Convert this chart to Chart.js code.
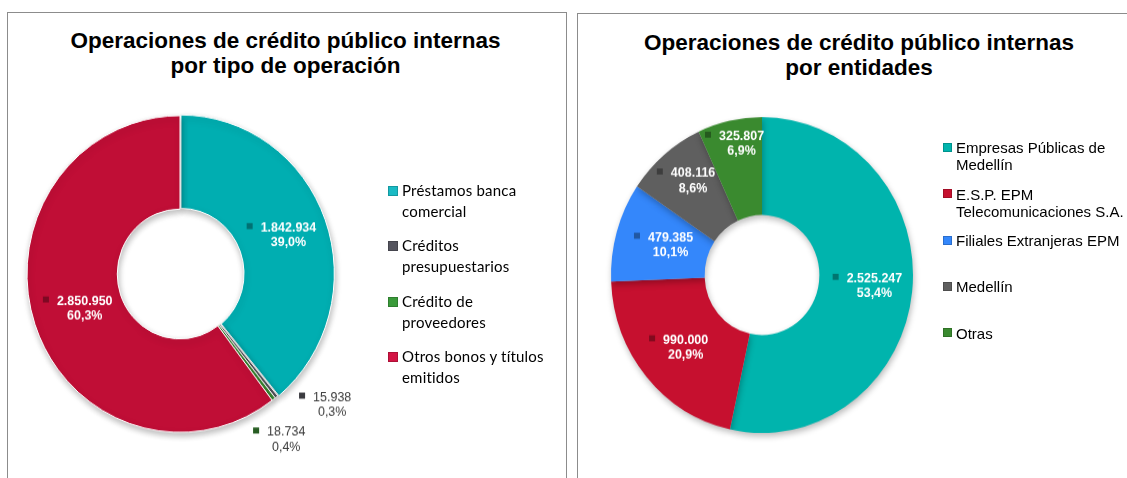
<!DOCTYPE html>
<html lang="es">
<head>
<meta charset="UTF-8">
<title>Operaciones de crédito público internas</title>
<script src="https://cdn.jsdelivr.net/npm/chart.js"></script>
<style>
  body { margin: 0; width: 1127px; height: 478px; overflow: hidden; background: #fff; position: relative;
         font-family: "Liberation Sans", Arial, sans-serif; }
  .panel { position: absolute; border: 1px solid #8c8c8c; background: #fff; }
  .title { position: absolute; text-align: center; font-weight: bold; font-size: 22.5px; line-height: 25px;
           color: #000; white-space: nowrap; }
  .wrap { position: absolute; width: 440px; height: 440px; transform-origin: 50% 50%; }
  .line { position: absolute; white-space: nowrap; color: #000; }
  .sq { position: absolute; }
</style>
</head>
<body>
  <div class="panel" style="left:7px; top:12px; width:558px; height:500px;"></div>
  <div class="panel" style="left:577px; top:13px; width:600px; height:500px;"></div>

  <div class="title" style="left:0; top:28px; width:571px;">Operaciones de crédito público internas<br>por tipo de operación</div>
  <div class="title" style="left:577px; top:30px; width:564px;">Operaciones de crédito público internas<br>por entidades</div>

  <div class="wrap" id="wrapLeft"><canvas id="tipoChart" width="440" height="440"></canvas></div>
  <div class="wrap" id="wrapRight"><canvas id="entidadChart" width="440" height="440"></canvas></div>

  <div id="legendLeft"></div>
  <div id="legendRight"></div>

<script>
  // data
  const tipoLabels = [
    ['Préstamos banca', 'comercial'],
    ['Créditos', 'presupuestarios'],
    ['Crédito de', 'proveedores'],
    ['Otros bonos y títulos', 'emitidos']
  ];
  const tipoValues = [1842934, 15938, 18734, 2850950];
  const tipoColors = ['#00AEB1', '#5A5A62', '#3D8E35', '#C00E36'];
  const tipoKeys = ['#19BAC4', '#55555F', '#3A9A3A', '#D31444'];

  const entidadLabels = [
    ['Empresas Públicas de', 'Medellín'],
    ['E.S.P. EPM', 'Telecomunicaciones S.A.'],
    ['Filiales Extranjeras EPM'],
    ['Medellín'],
    ['Otras']
  ];
  const entidadValues = [2525247, 990000, 479385, 408116, 325807];
  const entidadColors = ['#00B4AD', '#C6102F', '#3487FB', '#5F5F5F', '#3A8A2F'];

  function fmtNum(n) {
    return String(n).replace(/\B(?=(\d{3})+(?!\d))/g, '.');
  }
  function fmtPct(v, total) {
    return (v / total * 100).toFixed(1).replace('.', ',') + '%';
  }

  // soft drop shadow under the rings
  const softShadow = {
    id: 'softShadow',
    beforeDatasetDraw(chart) {
      const c = chart.ctx;
      c.save();
      c.shadowColor = 'rgba(0,0,0,0.28)';
      c.shadowBlur = 6;
      c.shadowOffsetX = 1;
      c.shadowOffsetY = 3;
    },
    afterDatasetDraw(chart) {
      chart.ctx.restore();
    }
  };

  // value + percent labels with the little key square, Excel style
  const sliceLabels = {
    id: 'sliceLabels',
    afterDatasetsDraw(chart, args, opts) {
      const ctx = chart.ctx;
      const ds = chart.data.datasets[0];
      const meta = chart.getDatasetMeta(0);
      const total = ds.data.reduce((a, b) => a + b, 0);
      meta.data.forEach((arc, i) => {
        const p = arc.getProps(['x', 'y', 'startAngle', 'endAngle', 'innerRadius', 'outerRadius'], true);
        const out = opts.outside[i];
        let mid = (p.startAngle + p.endAngle) / 2;
        let r;
        if (out) {
          r = p.outerRadius + out.dr;
          mid += out.da * Math.PI / 180;
        } else {
          const f = opts.radial[i] ?? 0.52;
          r = p.innerRadius + (p.outerRadius - p.innerRadius) * f;
        }
        const bx = p.x + Math.cos(mid) * r;
        const by = p.y + Math.sin(mid) * r;
        const l1 = fmtNum(ds.data[i]);
        const l2 = fmtPct(ds.data[i], total);

        ctx.save();
        ctx.font = out ? opts.outFont : opts.font;
        const wt = Math.max(ctx.measureText(l1).width, ctx.measureText(l2).width);
        ctx.translate(bx, by);
        ctx.scale(1, 1 / opts.stretch);
        const left = -(14 + wt) / 2;
        const tx = left + 14 + wt / 2;
        // key square
        ctx.fillStyle = ds.backgroundColor[i];
        ctx.fillRect(left, -13, 6, 6);
        ctx.fillStyle = 'rgba(0,0,0,0.35)';
        ctx.fillRect(left, -13, 6, 6);
        // text
        ctx.fillStyle = out ? '#3a3a3a' : '#ffffff';
        ctx.textAlign = 'center';
        ctx.textBaseline = 'middle';
        ctx.fillText(l1, tx, -8);
        ctx.fillText(l2, tx, 7);
        ctx.restore();
      });
    }
  };

  function placeWrap(id, cx, cy, stretch) {
    const el = document.getElementById(id);
    el.style.left = (cx - 220) + 'px';
    el.style.top = (cy - 220) + 'px';
    el.style.transform = 'scaleY(' + stretch + ')';
  }

  function buildLegend(id, labels, colors, o) {
    const root = document.getElementById(id);
    labels.forEach((lines, i) => {
      const base = o.firstBaseline + i * o.pitch;
      const sq = document.createElement('div');
      sq.className = 'sq';
      sq.style.left = o.sqX + 'px';
      sq.style.top = (base - o.sqSize - o.sqLift) + 'px';
      sq.style.width = o.sqSize + 'px';
      sq.style.height = o.sqSize + 'px';
      sq.style.background = colors[i];
      sq.style.boxShadow = 'inset 0 0 0 1px rgba(0,0,0,0.18)';
      root.appendChild(sq);
      lines.forEach((txt, j) => {
        const d = document.createElement('div');
        d.className = 'line';
        d.textContent = txt;
        d.style.left = o.textX + 'px';
        d.style.top = (base + j * o.lineGap - o.baseOff) + 'px';
        d.style.font = o.font;
        d.style.lineHeight = o.lineH + 'px';
        d.style.letterSpacing = o.spacing || 'normal';
        root.appendChild(d);
      });
    });
  }

  const LEFT_STRETCH = 1.035;
  const RIGHT_STRETCH = 1.046;
  placeWrap('wrapLeft', 180, 274, LEFT_STRETCH);
  placeWrap('wrapRight', 762, 275, RIGHT_STRETCH);

  new Chart(document.getElementById('tipoChart'), {
    type: 'doughnut',
    data: {
      labels: tipoLabels,
      datasets: [{
        data: tipoValues,
        backgroundColor: tipoColors,
        borderColor: '#ffffff',
        borderWidth: 1,
        offset: [4, 0, 0, 0]
      }]
    },
    options: {
      responsive: false,
      devicePixelRatio: 1,
      animation: false,
      events: [],
      radius: 153,
      cutout: '41%',
      plugins: {
        legend: { display: false },
        tooltip: { enabled: false },
        sliceLabels: {
          stretch: LEFT_STRETCH,
          font: 'bold 12.5px "Liberation Sans", Arial, sans-serif',
          outFont: '12.5px "Liberation Sans", Arial, sans-serif',
          radial: [0.5, 0.5, 0.5, 0.5],
          outside: { 1: { dr: 40, da: -9.7 }, 2: { dr: 36, da: 6.1 } }
        }
      }
    },
    plugins: [softShadow, sliceLabels]
  });

  new Chart(document.getElementById('entidadChart'), {
    type: 'doughnut',
    data: {
      labels: entidadLabels,
      datasets: [{
        data: entidadValues,
        backgroundColor: entidadColors,
        borderWidth: 0
      }]
    },
    options: {
      responsive: false,
      devicePixelRatio: 1,
      animation: false,
      events: [],
      radius: 151,
      cutout: '38%',
      plugins: {
        legend: { display: false },
        tooltip: { enabled: false },
        sliceLabels: {
          stretch: RIGHT_STRETCH,
          font: 'bold 12.5px "Liberation Sans", Arial, sans-serif',
          outFont: '12.5px "Liberation Sans", Arial, sans-serif',
          radial: [0.52, 0.55, 0.48, 0.64, 0.75],
          outside: {}
        }
      }
    },
    plugins: [softShadow, sliceLabels]
  });

  buildLegend('legendLeft', tipoLabels, tipoKeys, {
    sqX: 388, sqSize: 10, sqLift: 0, textX: 402,
    firstBaseline: 196, pitch: 55.4, lineGap: 21,
    font: '15px Lato, "Open Sans", sans-serif', lineH: 21, baseOff: 16.3, spacing: '0.2px'
  });
  buildLegend('legendRight', entidadLabels, entidadColors, {
    sqX: 943, sqSize: 9, sqLift: 1, textX: 956,
    firstBaseline: 153, pitch: 46.3, lineGap: 17,
    font: '15px "Liberation Sans", Arial, sans-serif', lineH: 17, baseOff: 13.7
  });
</script>
</body>
</html>
